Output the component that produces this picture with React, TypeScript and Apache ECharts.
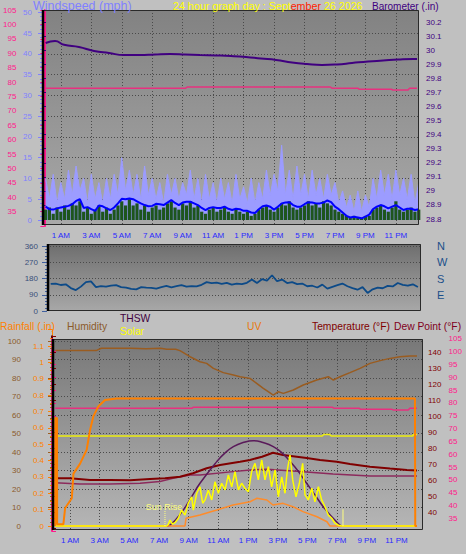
import React, { useEffect, useRef } from "react";
import * as echarts from "echarts";

// ================= DATA =================
// Top panel: 15-minute samples starting at midnight
const windSampleHours = 0.25;
const gustMph = [
  10, 5, 11, 4, 9, 5, 12, 6, 13, 7, 10, 4, 11, 5, 9, 4, 10, 5, 11, 6,
  15, 7, 12, 6, 11, 5, 13, 6, 10, 5, 9, 4, 11, 6, 10, 5, 9, 6, 12, 5,
  10, 4, 11, 5, 9, 4, 10, 5, 9, 4, 11, 5, 8, 4, 10, 4, 9, 5, 12, 6,
  11, 7, 18, 6, 12, 5, 13, 6, 11, 5, 12, 6, 10, 5, 11, 6, 9, 4, 7, 3,
  6, 2, 7, 2, 6, 3, 10, 5, 12, 6, 11, 5, 12, 6, 10, 5, 11, 4, 9,
];
const windMph = [
  2.5, 3, 1.5, 3, 2, 3.5, 2.5, 4, 3.5, 4.5, 2, 3, 1.5, 2.5, 3.5, 2, 3, 1.5, 2.5, 3.5,
  4.5, 3.5, 5, 3.5, 4, 2.5, 3.5, 2, 3, 3.5, 2.5, 3, 4, 4.5, 3, 2.5, 4, 3.5, 4.5, 3,
  3.5, 2, 1.5, 2.5, 3, 2, 2.5, 3, 2, 1.5, 2.5, 2, 1.5, 2, 1, 1.5, 2.5, 3, 3.5, 2.5,
  2, 3, 4, 3.5, 4.5, 3, 2.5, 3, 3.5, 4.5, 3.5, 4, 3, 4.5, 4, 3.5, 2.5, 2, 1.5, 1,
  0.5, 1, 0.5, 0.5, 1, 1, 2.5, 3, 3.5, 2.5, 2, 3, 4.5, 2.5, 2, 2.5, 3, 2, 2.5,
];
const avgWindMph = [
  3.2, 2.6, 2.5, 2.8, 3.0, 3.2, 3.4, 3.8, 4.6, 5.0,
  2.9, 3.1, 2.6, 2.2, 3.5, 3.3, 2.8, 2.4, 3.0, 4.0,
  5.1, 5.0, 5.2, 5.0, 4.5, 4.0, 3.6, 3.3, 3.4, 3.9,
  3.8, 3.6, 4.2, 4.8, 4.1, 3.6, 4.2, 4.4, 4.4, 4.0,
  3.6, 2.9, 2.4, 2.9, 3.1, 2.9, 2.9, 3.2, 2.7, 2.4,
  2.7, 2.6, 2.2, 2.2, 1.8, 1.7, 2.6, 3.3, 3.5, 3.2,
  2.5, 3.2, 4.0, 4.2, 4.3, 3.6, 3.2, 3.2, 3.8, 4.3,
  4.2, 4.0, 4.0, 4.2, 4.7, 4.3, 3.2, 2.6, 1.8, 1.0,
  0.6, 0.8, 0.6, 0.4, 0.8, 1.3, 2.6, 3.2, 3.6, 3.3,
  2.8, 3.2, 3.6, 3.0, 2.4, 2.7, 2.7, 2.4, 2.6,
];
const barometerIn: [number, number][] = [
  [0, 30.053], [0.62, 30.067], [1.21, 30.04], [2.19, 30.024], [3.18, 29.996], [4.16, 29.981],
  [5.15, 29.967], [6.2, 29.967], [7.18, 29.971], [8.17, 29.974], [9.15, 29.971], [10.14, 29.967],
  [11.19, 29.964], [12.17, 29.96], [13.16, 29.953], [14.14, 29.942], [15.13, 29.932], [16.18, 29.914],
  [17.16, 29.903], [18.15, 29.896], [19.13, 29.9], [20.12, 29.91], [21.17, 29.921], [22.16, 29.928],
  [23.14, 29.935], [24.12, 29.939], [24.39, 29.939],
];
const insideTempF: [number, number][] = [
  [0, 77.9], [9.2, 77.9], [9.3, 78.3], [18.7, 78.3], [18.8, 77.9], [20.5, 77.9], [20.6, 77.5],
  [22.7, 77.5], [22.8, 77.25], [23.8, 77.25], [23.9, 77.9], [24.39, 77.9],
];

// Middle panel: wind direction, 20-minute samples
const dirSampleHours = 1 / 3;
const windDirDeg = [
  150, 152, 144, 148, 127, 116, 135, 160, 164, 132,
  138, 135, 140, 143, 132, 130, 122, 120, 132, 129,
  128, 124, 132, 139, 131, 138, 143, 135, 138, 136,
  145, 160, 154, 157, 150, 156, 146, 152, 149, 156,
  175, 155, 176, 168, 198, 165, 174, 155, 160, 149,
  152, 137, 140, 130, 146, 124, 134, 143, 152, 137,
  127, 118, 132, 100, 120, 129, 126, 139, 136, 155,
  145, 141, 148, 133,
];
const dirLabels: Record<number, string> = { 360: "N", 270: "W", 180: "S", 90: "E", 0: "" };

// Bottom panel
const humidityPct: [number, number][] = [
  [0, 94.8], [1.11, 94.8], [2.11, 94.8], [2.75, 94.8], [3.11, 96.1], [5.11, 96.1], [6.12, 95.8],
  [7.11, 96.1], [7.52, 95.5], [8.12, 95.5], [8.41, 94.8], [9.09, 91.5], [9.76, 88.8], [10.21, 87.9],
  [10.66, 85.2], [11.33, 82.9], [12.01, 81.6], [12.46, 80.7], [13.13, 79.8], [13.58, 77.1],
  [14.03, 74.4], [14.36, 72.6], [14.7, 70.8], [15.04, 72.6], [15.38, 71.7], [16.05, 73.5],
  [16.72, 76.2], [17.63, 78.9], [18.41, 80.7], [18.75, 78.9], [19.2, 80.7], [19.87, 82.9],
  [20.55, 85.2], [21.22, 87.9], [21.9, 89.4], [22.57, 90.6], [23.24, 91.5], [23.91, 91.9], [24.39, 91.9],
];
const insideHumPct: [number, number][] = [
  [0, 48.6], [18.0, 48.6], [18.1, 49.5], [18.5, 49.5], [18.6, 48.6], [24.1, 48.6], [24.15, 49.5], [24.39, 49.5],
];
const temperatureF: [number, number][] = [
  [0, 61.4], [1, 61.4], [2.35, 60.4], [3.69, 60.4], [5.04, 60.2], [6.39, 61.0], [7.4, 61.4],
  [8.41, 62.4], [9.29, 64.6], [10.21, 67.7], [11.11, 69.7], [12.46, 71.8], [13.13, 72.9],
  [13.94, 74.9], [14.68, 77.4], [15.36, 76.0], [16.95, 74.1], [17.85, 72.8], [18.98, 71.8],
  [19.87, 70.4], [21.22, 68.7], [22.57, 67.5], [23.71, 66.6], [24.39, 66.3],
];
const dewPointF: [number, number][] = [
  [0, 58.7], [1.67, 57.9], [3.69, 57.9], [5.72, 58.3], [7.06, 59.5], [7.94, 61.4], [9.09, 63.5],
  [9.76, 63.5], [11.99, 65.6], [13.13, 66.6], [14.27, 67.1], [16.5, 65.6], [18.73, 64.1],
  [21.22, 62.9], [24.39, 62.9],
];
const solarMaxWm2: [number, number][] = [
  [7.52, 0], [7.74, 5], [8.63, 86], [9.2, 159], [9.76, 231], [10.89, 348], [11.45, 395], [12.01, 429],
  [12.66, 451], [13.35, 461], [14.01, 451], [14.7, 429], [15.29, 395], [15.84, 348], [16.37, 297],
  [16.95, 231], [17.51, 168], [18.07, 104], [18.66, 49], [19.19, 5], [19.33, 0],
];
const solarWm2: [number, number][] = [
  [0, 0], [7.51, 0], [7.62, 8], [7.74, 32], [7.9, 10], [8.1, 20], [8.3, 42], [8.52, 86], [8.75, 59],
  [8.97, 123], [9.2, 158], [9.31, 86], [9.54, 177], [9.76, 212], [9.94, 123], [10.1, 141], [10.32, 195],
  [10.55, 141], [10.77, 239], [11.0, 177], [11.22, 231], [11.45, 195], [11.67, 276], [11.9, 212],
  [12.12, 294], [12.35, 195], [12.57, 231], [12.79, 204], [13.02, 185], [13.24, 294], [13.47, 339],
  [13.69, 249], [13.92, 357], [14.14, 249], [14.37, 321], [14.59, 212], [14.82, 303], [15.04, 158],
  [15.27, 266], [15.49, 177], [15.65, 303], [15.83, 384], [16.01, 249], [16.23, 158], [16.46, 231],
  [16.68, 339], [16.84, 168], [17.06, 141], [17.29, 204], [17.51, 131], [17.74, 212], [17.96, 141],
  [18.19, 104], [18.41, 59], [18.64, 42], [18.86, 15], [19.09, 4], [19.31, 0], [24.39, 0],
];
const uvIndex: [number, number][] = [
  [0, 0], [8.75, 0], [8.82, 0.67], [9.76, 0.95], [10.89, 1.38], [11.99, 1.82], [13.13, 2.1], [13.6, 2.4],
  [14.27, 2.25], [14.68, 1.82], [15.36, 1.96], [16.03, 1.67], [16.7, 1.24], [17.65, 0.8], [18.32, 0.37],
  [18.52, 0], [24.39, 0],
];
const rainIn: [number, number][] = [
  [0, 0], [0.01, 0.66], [0.12, 0.66], [0.13, 0.01], [0.55, 0.01], [0.67, 0.11], [1.12, 0.17], [1.23, 0.32],
  [1.67, 0.38], [2.12, 0.465], [2.35, 0.587], [2.57, 0.67], [2.9, 0.73], [3.36, 0.77], [4.14, 0.78],
  [24.25, 0.78], [24.27, 0], [24.39, 0],
];
const sunriseHour = 7.4;
const sunsetHour = 19.4;
const sunMarkWm2 = 90;

// ================= STYLE =================
const FONT = "Liberation Sans";
const PINK = "#ff1a8c";
const BARO = "#400080";
const WSC = "#8080ff";
const GRIDLINE = { color: "#4a4a4a", type: [1, 2] as any, width: 1 };

function hourLabel(v: number): string {
  const h = Math.round(v);
  if (h < 0 || h > 24 || h % 2 === 0) return "";
  return h < 12 ? `${h} AM` : `${h - 12} PM`;
}

function buildOption() {
  const grids: any[] = [];
  const xAxes: any[] = [];
  const yAxes: any[] = [];
  const series: any[] = [];
  const grid = (left: number, top: number, width: number, height: number) => {
    grids.push({ left, top, width, height, show: false });
    return grids.length - 1;
  };
  const xAx = (gi: number, o: any) => { xAxes.push({ type: "value", gridIndex: gi, ...o }); return xAxes.length - 1; };
  const yAx = (gi: number, o: any) => { yAxes.push({ type: "value", gridIndex: gi, ...o }); return yAxes.length - 1; };
  const rangeFor = (v0: number, y0: number, k: number, top: number, bottom: number) => ({
    min: v0 - (bottom - y0) / k,
    max: v0 + (y0 - top) / k,
  });
  const timeAxis = (labels: boolean, split: boolean) => ({
    min: -1, max: 25, interval: 2,
    axisLine: { show: false },
    axisTick: { show: false },
    axisLabel: { show: labels, formatter: hourLabel, color: "#2a2aff", fontSize: 8, margin: 6, fontFamily: FONT },
    splitLine: { show: split, showMinLine: false, showMaxLine: false, lineStyle: GRIDLINE },
  });
  const visY = (color: string, o: any) => ({
    axisLine: { show: true, lineStyle: { color, width: 1 } },
    axisTick: { show: true, length: 4, lineStyle: { color } },
    minorTick: { show: true, splitNumber: 5, length: 2, lineStyle: { color } },
    axisLabel: { color, fontSize: 8, margin: 6, fontFamily: FONT },
    splitLine: { show: false },
    ...o,
  });
  const line = (xi: number, yi: number, data: any, color: string, width: number, extra: any = {}) => {
    series.push({
      type: "line", xAxisIndex: xi, yAxisIndex: yi, data, symbol: "none", silent: true,
      lineStyle: { color, width }, ...extra,
    });
  };

  // ---------- TOP PANEL ----------
  const tMid = 45.6, tPx = 15.23;
  const gT = grid(tMid - tPx, 10, 26 * tPx, 215);
  const xT = xAx(gT, timeAxis(true, true));
  const yWs = yAx(gT, { show: false, ...rangeFor(0, 220, 4.154, 10, 225) });
  const yBr = yAx(gT, { show: false, ...rangeFor(28.8, 219, 140.5, 10, 225) });
  const yPt = yAx(gT, { show: false, ...rangeFor(35, 211.7, 2.88, 10, 225) });

  const gWsA = grid(42, 12.3, 377, 207.7);
  xAx(gWsA, { show: false, min: 0, max: 1 });
  yAx(gWsA, visY(WSC, {
    min: 0, max: 50, interval: 5, position: "left", offset: 2,
    axisLabel: { color: WSC, fontSize: 8, margin: 8, fontFamily: FONT },
    splitLine: { show: true, showMinLine: false, showMaxLine: false, lineStyle: GRIDLINE },
  }));
  const gPtA = grid(42, 10.1, 377, 216);
  xAx(gPtA, { show: false, min: 0, max: 1 });
  yAx(gPtA, visY(PINK, {
    min: 30, max: 105, interval: 5, position: "left", offset: 23,
    axisLine: { show: true, lineStyle: { color: PINK, width: 2 } },
    axisLabel: { color: PINK, fontSize: 8, margin: 5, fontFamily: FONT, formatter: (v: number) => (v === 30 ? "" : String(v)) },
  }));
  const gBrA = grid(42, 22.3, 377, 196.7);
  xAx(gBrA, { show: false, min: 0, max: 1 });
  yAx(gBrA, visY(BARO, {
    min: 28.8, max: 30.2, interval: 0.1, position: "right", offset: 2,
    axisLine: { show: true, lineStyle: { color: BARO, width: 1, type: "dotted" } },
    minorTick: { show: true, splitNumber: 2, length: 2, lineStyle: { color: BARO } },
    axisLabel: { color: BARO, fontSize: 8, margin: 5, fontFamily: FONT },
  }));

  line(xT, yWs, gustMph.map((v, i) => [i * windSampleHours, v]), "#9c9cff", 1, {
    z: 2, areaStyle: { color: "#9c9cff", opacity: 1 },
  });
  series.push({
    type: "bar", xAxisIndex: xT, yAxisIndex: yWs, silent: true, barWidth: 3.2, z: 3,
    data: windMph.map((v, i) => [i * windSampleHours, v]), itemStyle: { color: "#1d551d" },
  });
  line(xT, yWs, avgWindMph.map((v, i) => [i * windSampleHours, v]), "#0000ff", 2, { z: 4 });
  line(xT, yBr, barometerIn, BARO, 2, { smooth: true, z: 4 });
  line(xT, yPt, insideTempF, "#e8307f", 1.5, { z: 4 });

  // ---------- MIDDLE PANEL ----------
  const mMid = 50.7, mPx = 15.09;
  const gM = grid(mMid - mPx, 244, 26 * mPx, 67);
  const xM = xAx(gM, { show: false, min: -1, max: 25 });
  const yD = yAx(gM, { show: false, ...rangeFor(0, 311, 65 / 360, 244, 311) });
  const gMA = grid(47, 246, 374, 65);
  xAx(gMA, { show: false, min: 0, max: 1 });
  yAx(gMA, visY("#3a4f7a", {
    min: 0, max: 360, interval: 90, position: "left", offset: 0,
    axisLine: { show: false },
    axisTick: { show: true, length: 5, lineStyle: { color: "#4060a0" } },
    minorTick: { show: true, splitNumber: 5, length: 2, lineStyle: { color: "#4060a0" } },
    axisLabel: { color: "#3a4f7a", fontSize: 8, margin: 9, fontFamily: FONT },
    splitLine: { show: true, showMinLine: false, lineStyle: GRIDLINE },
  }));
  yAx(gMA, {
    min: 0, max: 360, interval: 90, position: "right", offset: 0,
    axisLine: { show: false }, axisTick: { show: false }, splitLine: { show: false },
    axisLabel: { color: "#1a4f8a", fontSize: 11, margin: 16, fontFamily: FONT, formatter: (v: number) => dirLabels[v] ?? "" },
  });
  line(xM, yD, windDirDeg.map((v, k) => [k * dirSampleHours, v]), "#0c4a88", 1.8);

  // ---------- BOTTOM PANEL ----------
  const bMid = 55.2, bPx = 14.835;
  const gB = grid(bMid - bPx, 339, 26 * bPx, 191);
  const xB = xAx(gB, timeAxis(true, true));
  const yHum = yAx(gB, { show: false, ...rangeFor(0, 526, 1.85, 339, 530) });
  const yRain = yAx(gB, { show: false, ...rangeFor(0, 526, 163.58, 339, 530) });
  const yTemp = yAx(gB, { show: false, ...rangeFor(30, 528.7, 1.6033, 339, 530) });
  const yPb = yAx(gB, { show: false, ...rangeFor(30, 531.1, 2.5627, 339, 530) });
  const ySol = yAx(gB, { show: false, ...rangeFor(0, 526, 0.185, 339, 530) });
  const yUv = yAx(gB, { show: false, ...rangeFor(0, 526, 11.5625, 339, 530) });

  const gHA = grid(52, 341, 371, 185);
  xAx(gHA, { show: false, min: 0, max: 1 });
  yAx(gHA, visY("#8b5a2b", {
    min: 0, max: 100, interval: 10, position: "left", offset: 22,
    axisLine: { show: true, lineStyle: { color: "#9a5c20", width: 2 } },
    axisTick: { show: true, length: 4, lineStyle: { color: "#9a5c20" } },
    minorTick: { show: true, splitNumber: 5, length: 2, lineStyle: { color: "#9a5c20" } },
    axisLabel: { color: "#8b5a2b", fontSize: 8, margin: 9, fontFamily: FONT },
    splitLine: { show: true, showMinLine: false, lineStyle: GRIDLINE },
  }));
  const gRA = grid(52, 329.7, 371, 196.3);
  xAx(gRA, { show: false, min: 0, max: 1 });
  yAx(gRA, visY("#ff8000", {
    min: 0, max: 1.2, interval: 0.1, position: "left", offset: 2,
    minorTick: { show: true, splitNumber: 2, length: 2, lineStyle: { color: "#ff8000" } },
    axisLabel: { color: "#ff8000", fontSize: 8, margin: 6, fontFamily: FONT, formatter: (v: number) => (v > 1.15 ? "" : String(v)) },
  }));
  const gTA = grid(52, 336.3, 371, 192.4);
  xAx(gTA, { show: false, min: 0, max: 1 });
  yAx(gTA, visY("#800000", {
    min: 30, max: 150, interval: 10, position: "right", offset: 0,
    axisLine: { show: true, lineStyle: { color: "#600000", width: 2 } },
    axisLabel: { color: "#800000", fontSize: 8, margin: 5, fontFamily: FONT, formatter: (v: number) => (v === 30 || v === 150 ? "" : String(v)) },
  }));
  const gPA = grid(52, 338.9, 371, 192.2);
  xAx(gPA, { show: false, min: 0, max: 1 });
  yAx(gPA, visY(PINK, {
    min: 30, max: 105, interval: 5, position: "right", offset: 20.5,
    axisLine: { show: true, lineStyle: { color: PINK, width: 2 } },
    axisLabel: { color: PINK, fontSize: 8, margin: 5, fontFamily: FONT, formatter: (v: number) => (v === 30 ? "" : String(v)) },
  }));

  line(xB, yHum, humidityPct, "#9a5c20", 1.5);
  line(xB, yPb, insideTempF, "#e8307f", 1.5);
  line(xB, yHum, insideHumPct, "#eeee10", 1.5);
  line(xB, yTemp, dewPointF, "#8c2a5c", 1.5);
  line(xB, yTemp, temperatureF, "#800000", 2);
  line(xB, ySol, solarMaxWm2, "#5a1a5a", 1.5, { smooth: true });
  line(xB, yUv, uvIndex, "#ff8c2a", 1.5);
  line(xB, ySol, solarWm2, "#ffff00", 1.5);
  line(xB, ySol, [[sunriseHour, 0], [sunriseHour, sunMarkWm2]], "#ffff80", 1, { lineStyle: { color: "#ffff80", width: 1, type: "dotted" } });
  line(xB, ySol, [[sunsetHour, 0], [sunsetHour, sunMarkWm2]], "#ffff80", 1);
  line(xB, yRain, rainIn, "#ff8000", 2);

  // ---------- graphics ----------
  const grad = (a: string, b: string) =>
    new echarts.graphic.LinearGradient(0, 0, 0, 1, [{ offset: 0, color: a }, { offset: 1, color: b }]);
  const bg = (x: number, y: number, w: number, h: number, a: string, b: string) => ({
    type: "rect", silent: true, z: -10, shape: { x, y, width: w, height: h }, style: { fill: grad(a, b) },
  });
  const frame = (x: number, y: number, w: number, h: number) => ([
    { type: "rect", silent: true, z: 100, shape: { x: x + 0.5, y: y + 0.5, width: w - 1, height: h - 1 }, style: { fill: "none", stroke: "#2a2a2a", lineWidth: 1 } },
    { type: "line", silent: true, z: 101, shape: { x1: x + 1, y1: y, x2: x + 1, y2: y + h }, style: { stroke: "#000", lineWidth: 2.5 } },
  ]);
  const txt = (text: string, x: number, y: number, fill: string, size = 10.3, align = "left") => ({
    type: "text", silent: true, z: 120,
    style: {
      text, x, y, fill, font: `${size}px "${FONT}"`,
      textAlign: align, textVerticalAlign: "middle", align, verticalAlign: "middle",
    },
  });

  const graphic: any[] = [
    bg(42, 10, 377, 215, "#828282", "#a9a9a9"),
    bg(47, 244, 374, 67, "#6e6e6e", "#a8a8a8"),
    bg(52, 339, 371, 191, "#787878", "#b6b6b6"),
    ...frame(42, 10, 377, 215),
    ...frame(47, 244, 374, 67),
    ...frame(52, 339, 371, 191),
    txt("Windspeed (mph)", 33, 6, WSC, 12.5),
    {
      type: "text", silent: true, z: 120,
      style: {
        text: "{a|24 hour graph day : Sept}{b|ember}{a| 26 2026}",
        x: 173, y: 6, textVerticalAlign: "middle", verticalAlign: "middle",
        font: `10.7px "${FONT}"`,
        rich: {
          a: { fill: "#ffff00", color: "#ffff00", font: `10.7px "${FONT}"` },
          b: { fill: "#ff2000", color: "#ff2000", font: `10.7px "${FONT}"` },
        },
      },
    },
    txt("Barometer (.in)", 372, 6, BARO, 10),
    txt("Rainfall (.in)", 0, 326, "#ff8000"),
    txt("Humidity", 67, 326, "#8b5a2b"),
    txt("THSW", 120, 318, "#400040"),
    txt("Solar", 120, 331, "#ffff00"),
    txt("UV", 247, 326, "#e8780c"),
    txt("Temperature (°F)", 312, 326, "#800000"),
    txt("Dew Point (°F)", 394, 326, "#800020"),
    txt("Sun Rise", 164, 507, "#ffff80", 9, "center"),
  ];

  return {
    animation: false,
    backgroundColor: "#c0c0c0",
    textStyle: { fontFamily: FONT },
    grid: grids,
    xAxis: xAxes,
    yAxis: yAxes,
    series,
    graphic,
  };
}

export default function App() {
  const ref = useRef<HTMLDivElement>(null);
  useEffect(() => {
    if (!ref.current) return;
    const chart = echarts.init(ref.current, null, { renderer: "svg" });
    chart.setOption(buildOption() as any);
    return () => chart.dispose();
  }, []);
  return (
    <div
      ref={ref}
      style={{ position: "fixed", left: 0, top: 0, width: 466, height: 554, background: "#c0c0c0" }}
    />
  );
}
